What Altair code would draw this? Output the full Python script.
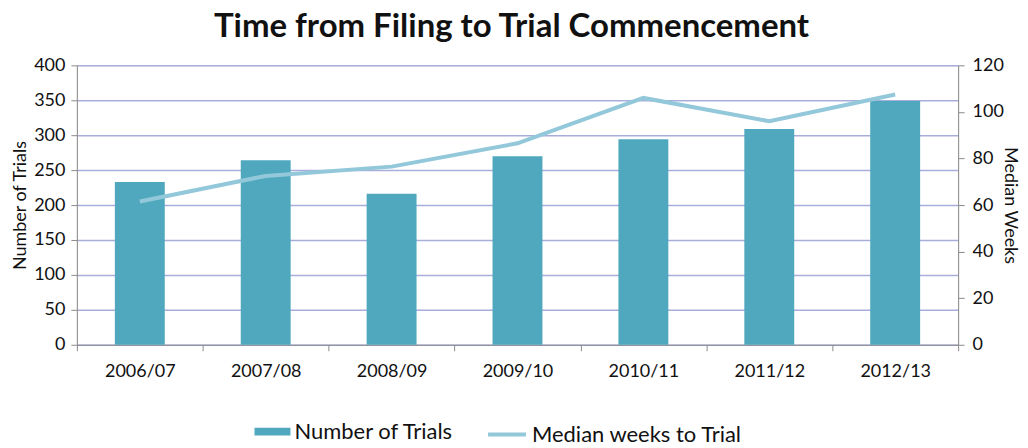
import altair as alt
import pandas as pd

years = ["2006/07", "2007/08", "2008/09", "2009/10", "2010/11", "2011/12", "2012/13"]
trials = [233, 264, 216, 270, 294, 309, 349]
weeks = [61.5, 72.5, 76.5, 86.5, 106, 96, 107.5]

df = pd.DataFrame({
    "year": years,
    "trials": trials,
    "weeks": weeks,
    "s1": ["Number of Trials"] * len(years),
    "s2": ["Median weeks to Trial"] * len(years),
})

FONT = "Lato"
AXIS_GRAY = "#8c8c8c"
TXT = "#111111"

x = alt.X(
    "year:N",
    sort=years,
    scale=alt.Scale(paddingInner=0, paddingOuter=0),
    axis=alt.Axis(
        title=None, labelAngle=0, labelFontSize=18, labelPadding=12,
        tickBand="extent", tickSize=6, domainColor=AXIS_GRAY, tickColor=AXIS_GRAY,
        labelColor=TXT, labelFont=FONT,
    ),
)

bars = alt.Chart(df).mark_bar(size=50).encode(
    x=x,
    y=alt.Y(
        "trials:Q",
        scale=alt.Scale(domain=[0, 400]),
        axis=alt.Axis(
            title="Number of Trials", values=list(range(0, 401, 50)), orient="left",
            grid=True, gridColor="#a7aedb", gridWidth=1.5,
            labelFontSize=18, titleFontSize=18, titleFontWeight="normal",
            labelPadding=6, titlePadding=4, tickSize=6,
            domainColor=AXIS_GRAY, tickColor=AXIS_GRAY,
            labelColor=TXT, titleColor=TXT, labelFont=FONT, titleFont=FONT,
        ),
    ),
    color=alt.Color(
        "s1:N",
        scale=alt.Scale(domain=["Number of Trials"], range=["#4fa8bd"]),
        legend=alt.Legend(
            title=None, orient="none", legendX=178, legendY=349,
            symbolType="M-1,-0.22H1V0.22H-1Z", symbolSize=1296, symbolStrokeWidth=0,
            labelFontSize=22, labelFont=FONT, labelColor=TXT, labelOffset=4,
            labelLimit=400,
        ),
    ),
)

line = alt.Chart(df).mark_line(strokeWidth=4).encode(
    x=x,
    y=alt.Y(
        "weeks:Q",
        scale=alt.Scale(domain=[0, 120]),
        axis=alt.Axis(
            title="Median Weeks", values=list(range(0, 121, 20)), orient="right",
            grid=False, labelFontSize=18, titleFontSize=18, titleFontWeight="normal",
            labelPadding=8, titlePadding=-3, tickSize=6,
            domainColor=AXIS_GRAY, tickColor=AXIS_GRAY,
            labelColor=TXT, titleColor=TXT, labelFont=FONT, titleFont=FONT,
        ),
    ),
    stroke=alt.Stroke(
        "s2:N",
        scale=alt.Scale(domain=["Median weeks to Trial"], range=["#93c8da"]),
        legend=alt.Legend(
            title=None, orient="none", legendX=410, legendY=349,
            symbolType="stroke", symbolSize=1444, symbolStrokeWidth=4,
            labelFontSize=22, labelFont=FONT, labelColor=TXT, labelOffset=4,
            labelLimit=400,
        ),
    ),
)

chart = alt.layer(bars, line).resolve_scale(
    y="independent", color="independent"
).properties(
    width=883,
    height=280,
    title=alt.TitleParams(
        "Time from Filing to Trial Commencement",
        fontSize=33, font=FONT, fontWeight="bold", color=TXT,
        anchor="middle", offset=12, dx=-6,
    ),
    autosize=alt.AutoSizeParams(type="none"),
    padding={"left": 69, "top": 57, "right": 62, "bottom": 102},
).configure_view(stroke=None).configure(background="white")

chart.save("out.html", embed_options={"renderer": "svg", "actions": False})
